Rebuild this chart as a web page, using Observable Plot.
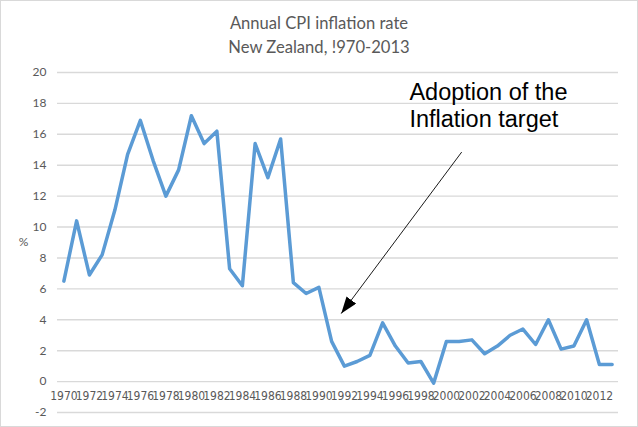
<!DOCTYPE html>
<html><head><meta charset="utf-8">
<script src="https://cdn.jsdelivr.net/npm/d3@7"></script>
<script src="https://cdn.jsdelivr.net/npm/@observablehq/plot@0.6"></script>
<style>
body{margin:0;background:#fff;}
#wrap{position:relative;width:638px;height:427px;}
#wrap svg{position:absolute;left:0;top:0;}
.ttl{position:absolute;left:0;width:638px;text-align:center;font-family:Lato,"Open Sans",sans-serif;font-size:16.6px;line-height:20px;color:#595959;}
#frame{position:absolute;left:0;top:0;width:636px;height:425px;border:1px solid #d9d9d9;pointer-events:none;}
</style></head><body><div id="wrap"></div>
<script>
const titleLines = ["Annual CPI inflation rate", "New Zealand, !970-2013"];
const years = [1970,1971,1972,1973,1974,1975,1976,1977,1978,1979,1980,1981,1982,1983,1984,1985,1986,1987,1988,1989,1990,1991,1992,1993,1994,1995,1996,1997,1998,1999,2000,2001,2002,2003,2004,2005,2006,2007,2008,2009,2010,2011,2012,2013];
const cpi = [6.5,10.4,6.9,8.2,11.1,14.7,16.9,14.3,12.0,13.7,17.2,15.4,16.2,7.3,6.2,15.4,13.2,15.7,6.4,5.7,6.1,2.6,1.0,1.3,1.7,3.8,2.3,1.2,1.3,-0.1,2.6,2.6,2.7,1.8,2.3,3.0,3.4,2.4,4.0,2.1,2.3,4.0,1.1,1.1];
const yTicks = [-2,0,2,4,6,8,10,12,14,16,18,20];
const xLabels = [1970,1972,1974,1976,1978,1980,1982,1984,1986,1988,1990,1992,1994,1996,1998,2000,2002,2004,2006,2008,2010,2012];
const yLabel = "%";
const annotation = "Adoption of the\nInflation target";
const annotationPos = {x: 1997.1, y: 19.46};
const arrowFrom = {x: 2001.2, y: 14.85};
const arrowTo = {x: 1991.75, y: 4.4};

const data = years.map((y, i) => ({year: y, value: cpi[i]}));
const font = "Lato, 'Open Sans', sans-serif";
const narrow = "'Liberation Sans Narrow', 'DejaVu Sans Condensed', 'Arial Narrow', Lato, sans-serif";

const chart = Plot.plot({
  width: 638, height: 427,
  marginLeft: 57, marginRight: 20, marginTop: 72, marginBottom: 15,
  style: {fontFamily: font, background: "transparent"},
  x: {domain: [1969.5, 2013.5], axis: null},
  y: {domain: [-2, 20], axis: null},
  marks: [
    Plot.ruleY(yTicks, {stroke: "#d9d9d9", strokeWidth: 1.4}),
    Plot.axisY(yTicks, {anchor: "left", tickSize: 0, tickPadding: 11, tickFormat: d => String(d), label: null, fill: "#595959", color: "#595959", fontSize: 12}),
    Plot.text(xLabels, {x: d => d, y: 0, text: d => String(d), dy: 15, fill: "#595959", fontSize: 12, fontFamily: narrow}),
    Plot.text([yLabel], {x: 1969.5, y: 9, text: d => d, dx: -34, fill: "#595959", fontSize: 12}),
    Plot.line(data, {x: "year", y: "value", stroke: "#5b9bd5", strokeWidth: 3.5, strokeLinejoin: "round", strokeLinecap: "round"}),
    Plot.link([0], {x1: arrowFrom.x, y1: arrowFrom.y, x2: arrowTo.x, y2: arrowTo.y, stroke: "#000", strokeWidth: 0.9, markerEnd: "arrow"}),
    Plot.text([annotation], {x: annotationPos.x, y: annotationPos.y, text: d => d, textAnchor: "start", lineAnchor: "top", lineHeight: 1.15, fontSize: 23.5, fill: "#000", fontFamily: "'Liberation Sans', Arial, sans-serif"})
  ]
});

// restyle the arrow marker as a filled triangular head
d3.select(chart).selectAll("marker").each(function() {
  const m = d3.select(this);
  m.attr("viewBox", "0 0 10 10").attr("refX", 10).attr("refY", 5)
   .attr("markerWidth", 17).attr("markerHeight", 12).attr("markerUnits", "userSpaceOnUse")
   .attr("orient", "auto").attr("preserveAspectRatio", "none");
  m.selectAll("*").remove();
  m.append("path").attr("d", "M0,0L10,5L0,10z").attr("fill", "#000").attr("stroke", "none");
});

const wrap = document.getElementById("wrap");
wrap.appendChild(chart);
titleLines.forEach((t, i) => {
  const d = document.createElement("div");
  d.className = "ttl";
  d.style.top = (13 + i * 24) + "px";
  d.textContent = t;
  wrap.appendChild(d);
});
const f = document.createElement("div"); f.id = "frame"; wrap.appendChild(f);
</script></body></html>
